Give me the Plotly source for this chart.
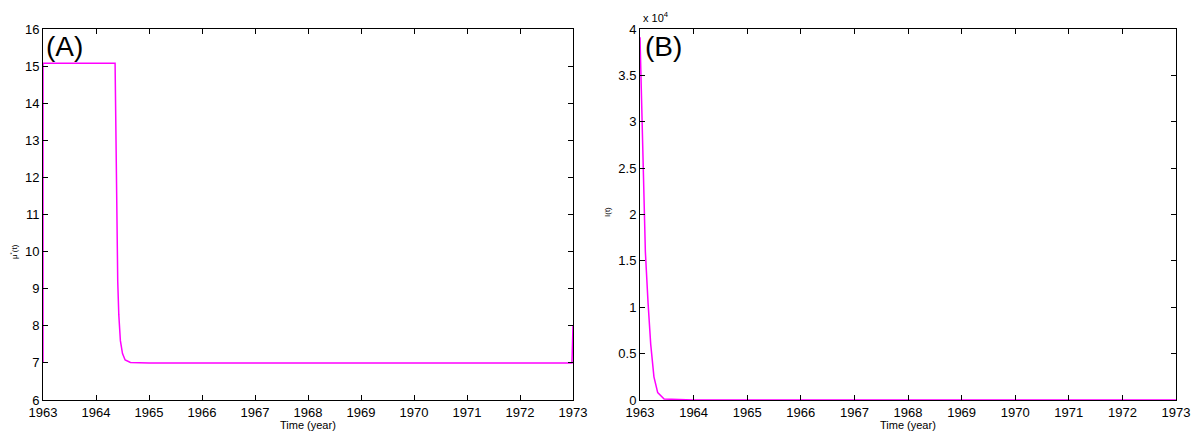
import plotly.graph_objects as go

# Panel A: mu*(t)
tA = [1963.0, 1963.0, 1964.36, 1964.37, 1964.38, 1964.395, 1964.41, 1964.43, 1964.46,
      1964.50, 1964.55, 1964.65, 1965.0, 1972.98, 1973.0]
muA = [7.0, 15.08, 15.08, 13.5, 11.8, 10.2, 9.2, 8.3, 7.6,
       7.25, 7.08, 7.01, 7.0, 7.0, 8.0]

# Panel B: I(t) in units of 1e4
tB = [1963.0, 1963.02, 1963.04, 1963.07, 1963.10, 1963.15, 1963.20, 1963.26,
      1963.33, 1963.45, 1964.0, 1973.0]
IB = [3.91, 3.4, 2.9, 2.2, 1.6, 1.05, 0.6, 0.25,
      0.08, 0.01, 0.0, 0.0]

xticks = list(range(1963, 1974))
yticksA = list(range(6, 17))
yticksB = [0, 0.5, 1, 1.5, 2, 2.5, 3, 3.5, 4]
yticklabB = ["0", "0.5", "1", "1.5", "2", "2.5", "3", "3.5", "4"]

W, H = 1202, 437
FONT = "Liberation Sans, Arial, sans-serif"
MAG = "#ff00ff"

fig = go.Figure()
fig.add_trace(go.Scatter(x=tA, y=muA, mode="lines", line=dict(color=MAG, width=1.5),
                         xaxis="x", yaxis="y", showlegend=False))
fig.add_trace(go.Scatter(x=tB, y=IB, mode="lines", line=dict(color=MAG, width=1.5),
                         xaxis="x2", yaxis="y2", showlegend=False))

def px(x):
    return x / W

def py(y):
    return 1 - y / H

axis_common = dict(showgrid=False, zeroline=False, showline=True, linecolor="black",
                   linewidth=1, mirror="ticks", ticks="inside", ticklen=5,
                   tickcolor="black", tickwidth=1, automargin=False,
                   tickfont=dict(family=FONT, size=13, color="black"))

fig.update_layout(
    width=W, height=H,
    margin=dict(l=0, r=0, t=0, b=0, autoexpand=False),
    paper_bgcolor="white", plot_bgcolor="white",
    xaxis=dict(domain=[px(43), px(573)], range=[1963, 1973], tickvals=xticks,
               anchor="y", ticklabelstandoff=0, **axis_common),
    yaxis=dict(domain=[py(400), py(29)], range=[6, 16], tickvals=yticksA,
               anchor="x", **axis_common),
    xaxis2=dict(domain=[px(640), px(1176)], range=[1963, 1973], tickvals=xticks,
                anchor="y2", ticklabelstandoff=0, **axis_common),
    yaxis2=dict(domain=[py(400), py(29)], range=[0, 4], tickvals=yticksB,
                ticktext=yticklabB, anchor="x2", **axis_common),
    annotations=[
        dict(text="Time (year)", x=px(308), y=py(425), xref="paper", yref="paper",
             showarrow=False, font=dict(family=FONT, size=11, color="black"),
             xanchor="center", yanchor="middle"),
        dict(text="Time (year)", x=px(908), y=py(425), xref="paper", yref="paper",
             showarrow=False, font=dict(family=FONT, size=11, color="black"),
             xanchor="center", yanchor="middle"),
        dict(text="μ<sup>*</sup>(t)", x=px(14), y=py(252), xref="paper", yref="paper",
             showarrow=False, textangle=-90, font=dict(family=FONT, size=8, color="black"),
             xanchor="center", yanchor="middle"),
        dict(text="I(t)", x=px(607), y=py(212), xref="paper", yref="paper",
             showarrow=False, textangle=-90, font=dict(family=FONT, size=8, color="black"),
             xanchor="center", yanchor="middle"),
        dict(text="(A)", x=px(44), y=py(47), xref="paper", yref="paper",
             showarrow=False, font=dict(family=FONT, size=28, color="black"),
             xanchor="left", yanchor="middle"),
        dict(text="(B)", x=px(643), y=py(47), xref="paper", yref="paper",
             showarrow=False, font=dict(family=FONT, size=28, color="black"),
             xanchor="left", yanchor="middle"),
        dict(text="x 10<sup>4</sup>", x=px(641), y=py(17), xref="paper", yref="paper",
             showarrow=False, font=dict(family=FONT, size=11, color="black"),
             xanchor="left", yanchor="middle"),
    ],
)

fig.write_html("out.html")
